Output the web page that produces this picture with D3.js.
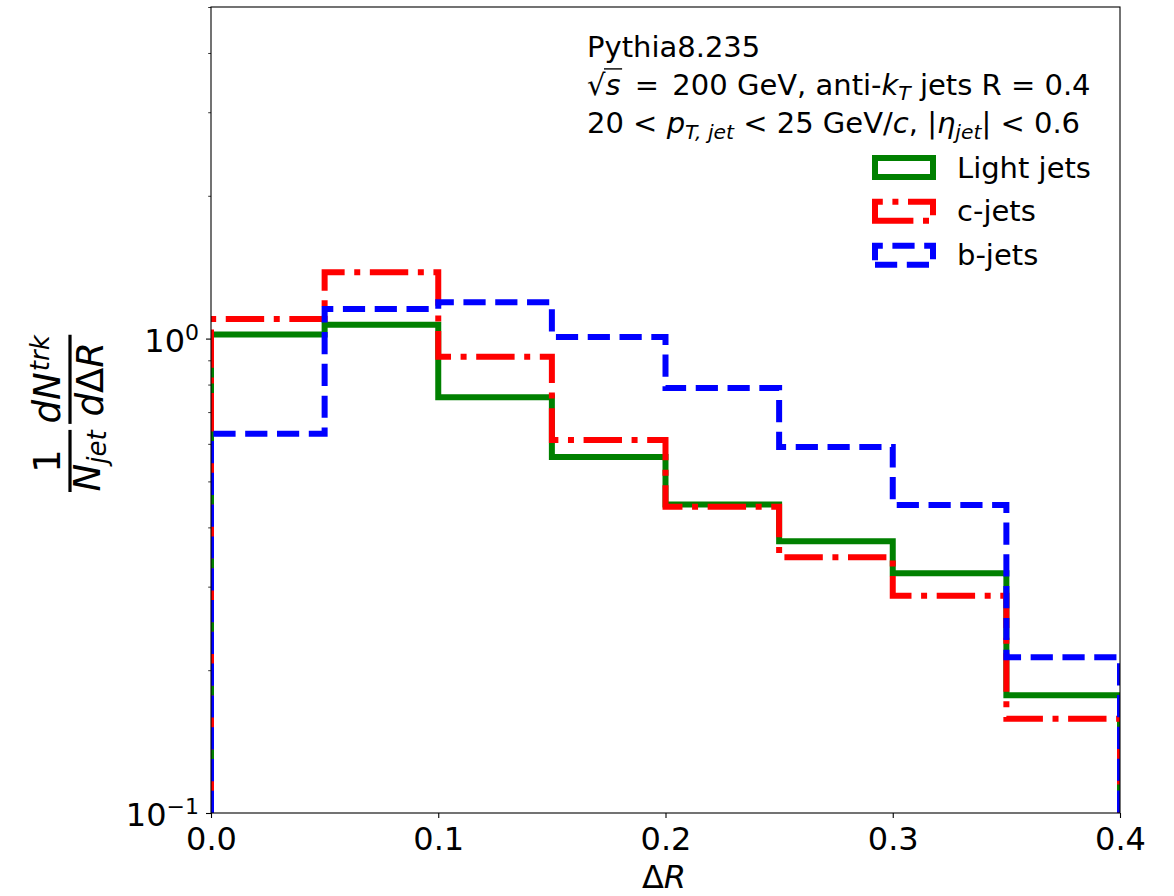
<!DOCTYPE html>
<html>
<head>
<meta charset="utf-8">
<script src="https://cdn.jsdelivr.net/npm/d3@7"></script>
<style>
  body { margin: 0; background: #fff; }
  text { font-family: "DejaVu Sans", sans-serif; fill: #000; }
</style>
</head>
<body>
<svg id="chart" width="1174" height="896"></svg>
<script>
// ---- data: track density vs. ΔR, per jet flavour ----
const binEdges   = [0, 0.05, 0.10, 0.15, 0.20, 0.25, 0.30, 0.35, 0.40];
const lightJets  = [1.02, 1.07, 0.752, 0.563, 0.447, 0.374, 0.320, 0.177];
const charmJets  = [1.10, 1.38, 0.916, 0.611, 0.442, 0.346, 0.287, 0.158];
const bottomJets = [0.630, 1.155, 1.193, 1.008, 0.787, 0.591, 0.446, 0.213];
const seriesNames = ["Light jets", "c-jets", "b-jets"];

const xTickValues = [0, 0.1, 0.2, 0.3, 0.4];
const xTickLabels = ["0.0", "0.1", "0.2", "0.3", "0.4"];
const yMajorTicks = [0.1, 1];
const yMajorExponents = ["\u22121", "0"];
const yMinorTicks = [0.2, 0.3, 0.4, 0.5, 0.6, 0.7, 0.8, 0.9, 2, 3, 4, 5];
const yDomain = [0.1, 5];
const xDomain = [0, 0.4];

// ---- layout & style ----
const plot = { left: 211, right: 1120, top: 7, bottom: 813 };
const lw = 6;
const seriesStyle = [
  { color: "#008000", dash: null },
  { color: "#ff0000", dash: [6.4, 1.6, 1, 1.6].map(d => d * lw) },
  { color: "#0000ff", dash: [3.7, 1.6].map(d => d * lw) }
];
const seriesValues = [lightJets, charmJets, bottomJets];

const svg = d3.select("#chart");
svg.append("rect").attr("width", 1174).attr("height", 896).attr("fill", "#fff");

const x = d3.scaleLinear().domain(xDomain).range([plot.left, plot.right]);
const y = d3.scaleLog().domain(yDomain).range([plot.bottom, plot.top]);

svg.append("defs").append("clipPath").attr("id", "plotClip")
  .append("rect")
  .attr("x", plot.left).attr("y", plot.top)
  .attr("width", plot.right - plot.left).attr("height", plot.bottom - plot.top);

// ---- step histograms ----
function stepPoints(values) {
  const pts = [[binEdges[0], yDomain[0]]];
  values.forEach((v, i) => {
    pts.push([binEdges[i], v]);
    pts.push([binEdges[i + 1], v]);
  });
  pts.push([binEdges[binEdges.length - 1], yDomain[0]]);
  return pts;
}
const stepLine = d3.line().x(d => x(d[0])).y(d => y(d[1]));

const histG = svg.append("g").attr("clip-path", "url(#plotClip)");
seriesValues.forEach((vals, i) => {
  histG.append("path")
    .attr("d", stepLine(stepPoints(vals)))
    .attr("fill", "none")
    .attr("stroke", seriesStyle[i].color)
    .attr("stroke-width", lw)
    .attr("stroke-linejoin", "miter")
    .attr("stroke-linecap", "butt")
    .attr("stroke-dasharray", seriesStyle[i].dash ? seriesStyle[i].dash.join(",") : null);
});

// ---- axes ----
const xAxis = d3.axisBottom(x)
  .tickValues(xTickValues)
  .tickFormat((d, i) => xTickLabels[i])
  .tickSizeInner(5).tickSizeOuter(0).tickPadding(0);
const xg = svg.append("g").attr("transform", `translate(0,${plot.bottom})`).call(xAxis);
xg.select(".domain").remove();
xg.selectAll(".tick line").attr("stroke", "#000").attr("stroke-width", 1.1);
xg.selectAll(".tick text")
  .attr("y", 37).attr("dy", null)
  .attr("font-size", 32).attr("font-family", "DejaVu Sans").attr("fill", "#000");

const yMinorAxis = d3.axisLeft(y).tickValues(yMinorTicks).tickFormat(() => "")
  .tickSizeInner(2.8).tickSizeOuter(0);
const ymg = svg.append("g").attr("transform", `translate(${plot.left},0)`).call(yMinorAxis);
ymg.select(".domain").remove();
ymg.selectAll(".tick line").attr("stroke", "#000").attr("stroke-width", 0.8);

const yAxis = d3.axisLeft(y).tickValues(yMajorTicks).tickFormat(() => "")
  .tickSizeInner(5).tickSizeOuter(0);
const yg = svg.append("g").attr("transform", `translate(${plot.left},0)`).call(yAxis);
yg.select(".domain").remove();
yg.selectAll(".tick line").attr("stroke", "#000").attr("stroke-width", 1.1);

yMajorTicks.forEach((v, i) => {
  const t = svg.append("text")
    .attr("x", 199).attr("y", y(v) + 13)
    .attr("text-anchor", "end").attr("font-size", 32);
  t.append("tspan").text("10");
  t.append("tspan").attr("dy", -12).attr("font-size", 22).text(yMajorExponents[i]);
});

// frame
svg.append("rect")
  .attr("x", plot.left).attr("y", plot.top)
  .attr("width", plot.right - plot.left).attr("height", plot.bottom - plot.top)
  .attr("fill", "none").attr("stroke", "#000").attr("stroke-width", 1.1);

// ---- rich text helper: runs of text laid out left to right ----
function richText(parent, x0, baseline, parts, baseSize) {
  let cx = x0;
  const runs = [];
  parts.forEach(p => {
    const size = p.size || baseSize;
    const t = parent.append("text")
      .attr("x", cx).attr("y", baseline + (p.dy || 0))
      .attr("font-size", size)
      .attr("font-style", p.it ? "italic" : "normal")
      .attr("xml:space", "preserve")
      .style("white-space", "pre")
      .text(p.t);
    const w = t.node().getComputedTextLength();
    runs.push({ x: cx, w: w, size: size });
    cx += w + (p.gap || 0);
  });
  return { end: cx, runs: runs };
}

// ---- annotation ----
const fs = 29, sub = 20.3;
const ann = svg.append("g");
richText(ann, 587, 57, [{ t: "Pythia8.235" }], fs);
const l2 = richText(ann, 587, 95, [
  { t: "\u221A" }, { t: "s", it: true, gap: 5 }, { t: " =", gap: 4 }, { t: " 200 GeV, anti-" },
  { t: "k", it: true }, { t: "T", it: true, size: sub, dy: 5 }, { t: " jets R = 0.4" }
], fs);
// radical overbar
ann.append("line")
  .attr("x1", l2.runs[0].x + l2.runs[0].w - 1.5)
  .attr("x2", l2.runs[1].x + l2.runs[1].w + 1.5)
  .attr("y1", 95 - 0.9 * fs).attr("y2", 95 - 0.9 * fs)
  .attr("stroke", "#000").attr("stroke-width", 1.4);
richText(ann, 587, 133, [
  { t: "20 < " }, { t: "p", it: true }, { t: "T, jet", it: true, size: sub, dy: 6 },
  { t: " < 25 GeV/" }, { t: "c", it: true }, { t: ", |" }, { t: "\u03B7", it: true },
  { t: "jet", it: true, size: sub, dy: 6 }, { t: "| < 0.6" }
], fs);

// ---- legend ----
const legendRows = [167.5, 211.3, 255.3];
const legendSize = 29;
const hx0 = 875, hx1 = 933, hh = 19;
seriesNames.forEach((name, i) => {
  const cy = legendRows[i];
  const yb = cy + hh / 2, yt = cy - hh / 2;
  svg.append("path")
    .attr("d", `M${hx0},${yb}L${hx1},${yb}L${hx1},${yt}L${hx0},${yt}Z`)
    .attr("fill", "none")
    .attr("stroke", seriesStyle[i].color)
    .attr("stroke-width", lw)
    .attr("stroke-linejoin", "miter")
    .attr("stroke-dasharray", seriesStyle[i].dash ? seriesStyle[i].dash.join(",") : null);
  svg.append("text").attr("x", 957).attr("y", cy + 10).attr("font-size", legendSize).text(name);
});

// ---- axis titles ----
const xt = svg.append("text").attr("x", 664).attr("y", 888)
  .attr("text-anchor", "middle").attr("font-size", 32);
xt.append("tspan").text("\u0394");
xt.append("tspan").attr("font-style", "italic").text("R");

// y title: (1/N_jet) (dN^trk / dΔR), rotated
const F = 37, S = 26;
const yl = svg.append("g").attr("transform", "translate(70,414) rotate(-90)");
function fraction(start, numParts, numBase, denParts, denBase) {
  const g = yl.append("g");
  const ng = g.append("g"), dg = g.append("g");
  const n = richText(ng, 0, numBase, numParts, F);
  const d = richText(dg, 0, denBase, denParts, F);
  const L = Math.max(n.end, d.end) + 1;
  ng.attr("transform", `translate(${start + (L - n.end) / 2},0)`);
  dg.attr("transform", `translate(${start + (L - d.end) / 2},0)`);
  g.append("rect").attr("x", start).attr("y", -1.6).attr("width", L).attr("height", 3.2).attr("fill", "#000");
  return start + L;
}
const f1End = fraction(-78,
  [{ t: "1" }], -10,
  [{ t: "N", it: true }, { t: "jet", it: true, size: S, dy: 6 }], 30);
fraction(f1End + 6,
  [{ t: "d", it: true }, { t: "N", it: true, gap: 1 }, { t: "trk", it: true, size: S, dy: -11 }], -10,
  [{ t: "d", it: true }, { t: "\u0394" }, { t: "R", it: true }], 33);
</script>
</body>
</html>
